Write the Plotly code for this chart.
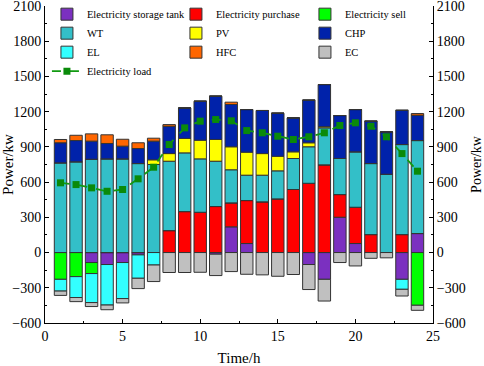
import plotly.graph_objects as go

hours = list(range(1, 25))

storage = [0, 0, -85, -102, -85, -20, 0, 0, 0, 0, -14, 219,
           77, 0, 0, 0, -102, -228, 301, 77, 0, 0, -228, 162]
purchase = [0, 0, 0, 0, 0, 0, 0, 187, 349, 343, 392, 204,
            366, 432, 457, 537, 590, 747, 193, 309, 153, 0, 153, 0]
sell = [-228, -205, -94, 0, 0, 0, 0, 0, 0, 0, 0, 0,
        0, 0, 0, 0, 0, 0, 0, 0, 0, 0, 0, -449]
wt = [764, 773, 795, 798, 798, 758, 750, 591, 500, 455, 386, 282,
      216, 227, 239, 264, 311, 315, 307, 472, 605, 667, 767, 792]
pv = [0, 0, 0, 0, 0, 0, 40, 65, 123, 159, 185, 196,
      196, 184, 124, 57, 34, 10, 0, 0, 0, 0, 0, 0]
chp = [171, 181, 154, 131, 108, 128, 159, 233, 260, 332, 369, 360,
       363, 367, 367, 289, 363, 359, 366, 360, 361, 361, 292, 216]
el = [-100, -178, -247, -345, -307, -199, -106, 0, 0, 0, 0, 0,
      0, 0, 0, 0, 0, 0, 0, 0, 0, 0, -85, 0]
hfc = [28, 45, 62, 74, 59, 49, 25, 14, 0, 0, 0, 20,
       0, 0, 0, 0, 0, 0, 0, 0, 0, 0, 0, 14]
ec = [-37, -35, -34, -40, -37, -88, -141, -170, -170, -168, -182, -162,
      -185, -190, -202, -187, -213, -185, -85, -114, -49, -45, -57, -43]
load = [594, 579, 551, 522, 537, 628, 727, 920, 1062, 1119, 1133, 1122,
        1039, 1020, 991, 963, 986, 1020, 1082, 1105, 1076, 986, 843, 693]

series = [
    ("Electricity storage tank", storage, "#7B30C0"),
    ("Electricity purchase", purchase, "#FF0000"),
    ("Electricity sell", sell, "#00FF00"),
    ("WT", wt, "#33BFC8"),
    ("PV", pv, "#FFFF00"),
    ("CHP", chp, "#0022AA"),
    ("EL", el, "#33FFFF"),
    ("HFC", hfc, "#FF6600"),
    ("EC", ec, "#C0C0C0"),
]

FONT = "Liberation Serif, Times New Roman, serif"

fig = go.Figure()
for name, vals, col in series:
    fig.add_trace(go.Bar(
        x=hours, y=vals, name=name,
        marker=dict(color=col, line=dict(color="#333333", width=1)),
    ))

fig.add_trace(go.Scatter(
    x=hours, y=load, name="Electricity load", yaxis="y2",
    mode="lines+markers",
    line=dict(color="#129A12", width=1.8, dash="dash"),
    marker=dict(symbol="square", size=7, color="#0A8A0A"),
))

axis_common = dict(
    showline=True, linecolor="black", linewidth=1,
    ticks="inside", ticklen=4, tickcolor="black", tickwidth=1,
    showgrid=False, zeroline=False, automargin=False,
    ticklabeloverflow="allow",
    tickfont=dict(family=FONT, size=14, color="black"),
)

fig.update_layout(
    width=484, height=366,
    margin=dict(l=45, r=51, t=6, b=43, autoexpand=False),
    paper_bgcolor="white", plot_bgcolor="white",
    barmode="relative", bargap=0.2,
    font=dict(family=FONT, color="black"),
    showlegend=True,
    legend=dict(
        orientation="h", x=0.005, y=1.02, xanchor="left", yanchor="top",
        bgcolor="rgba(0,0,0,0)", font=dict(family=FONT, size=10.5),
        entrywidth=84, entrywidthmode="pixels", traceorder="normal",
        tracegroupgap=0, itemwidth=30,
    ),
    xaxis=dict(
        range=[0, 25], tick0=0, dtick=5,
        minor=dict(dtick=2.5, ticks="inside", ticklen=2, tickcolor="black"),
        title=dict(text="Time/h", font=dict(family=FONT, size=15), standoff=9),
        **axis_common,
    ),
    yaxis=dict(
        range=[-600, 2100], tick0=0, dtick=300,
        minor=dict(dtick=150, ticks="inside", ticklen=2, tickcolor="black"),
        title=dict(text="Power/kw", font=dict(family=FONT, size=15), standoff=2),
        **axis_common,
    ),
    yaxis2=dict(
        range=[-600, 2100], tick0=0, dtick=300, overlaying="y", side="right",
        minor=dict(dtick=150, ticks="inside", ticklen=2, tickcolor="black"),
        title=dict(text="Power/kw", font=dict(family=FONT, size=14), standoff=7),
        **axis_common,
    ),
)

fig.write_html("out.html", config={"displayModeBar": False},
               post_script="document.body.style.margin='0px';")
